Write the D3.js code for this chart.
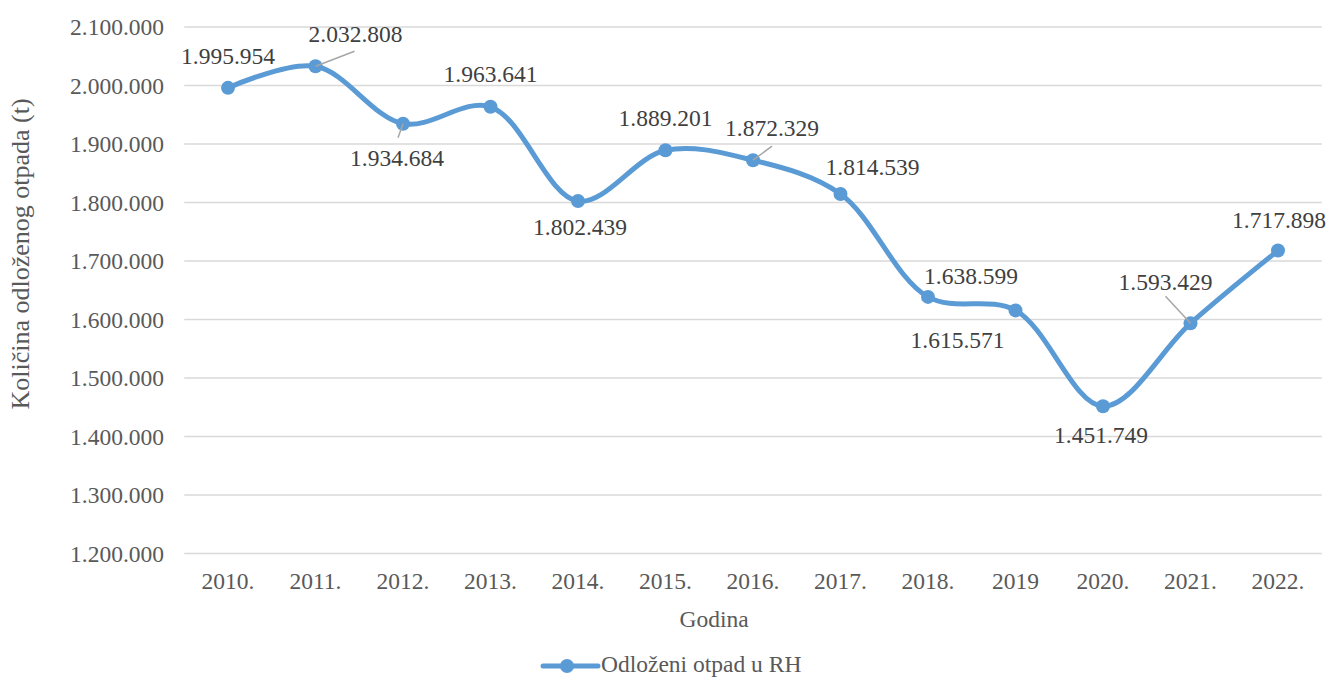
<!DOCTYPE html>
<html>
<head>
<meta charset="utf-8">
<script src="https://cdn.jsdelivr.net/npm/d3@7"></script>
<style>
    body { margin: 0; background: #fff; }
    svg text { font-family: "Liberation Serif", "Times New Roman", serif; }
</style>
</head>
<body>
<svg id="chart" width="1329" height="677"></svg>
<script>
// Data
const years = ['2010.', '2011.', '2012.', '2013.', '2014.', '2015.', '2016.', '2017.', '2018.', '2019', '2020.', '2021.', '2022.'];
const waste = [1995954, 2032808, 1934684, 1963641, 1802439, 1889201, 1872329, 1814539, 1638599, 1615571, 1451749, 1593429, 1717898];
const yTicks = [1200000, 1300000, 1400000, 1500000, 1600000, 1700000, 1800000, 1900000, 2000000, 2100000];
const seriesName = 'Odloženi otpad u RH';

// Label placement (offset from the point), leader line start where present
const labelOffsets = [
    { dx: 0, dy: -24 },
    { dx: 40, dy: -24, lx: 39, ly: -15 },
    { dx: -6, dy: 42, lx: -5, ly: 14 },
    { dx: 0, dy: -25 },
    { dx: 2, dy: 34 },
    { dx: 0, dy: -24 },
    { dx: 19, dy: -24, lx: 19, ly: -14 },
    { dx: 32, dy: -19 },
    { dx: 43, dy: -13 },
    { dx: -58, dy: 38 },
    { dx: -2, dy: 37 },
    { dx: -25, dy: -33, lx: -25, ly: -27 },
    { dx: 1, dy: -23 }
];

(function () {
    'use strict';

    const BLUE = '#5b9bd5';
    const TEXT = '#595959';
    const FS = 23.5;

    const locale = d3.formatLocale({ decimal: ',', thousands: '.', grouping: [3], currency: ['', ''] });
    const fmt = locale.format(',d');

    const svg = d3.select('#chart');
    const plot = { left: 184.25, right: 1321.75, top: 27, bottom: 553.5 };

    const x = d3.scaleBand().domain(years).range([plot.left, plot.right]);
    const y = d3.scaleLinear().domain([1200000, 2100000]).range([plot.bottom, plot.top]);
    const cx = d => x(d) + x.bandwidth() / 2;

    // Gridlines
    svg.append('g')
        .selectAll('line')
        .data(yTicks)
        .join('line')
        .attr('x1', plot.left).attr('x2', plot.right)
        .attr('y1', d => y(d)).attr('y2', d => y(d))
        .attr('stroke', '#d9d9d9')
        .attr('stroke-width', 1.5);

    // Y tick labels
    svg.append('g')
        .selectAll('text')
        .data(yTicks)
        .join('text')
        .attr('x', 164)
        .attr('y', d => y(d) + 8)
        .attr('text-anchor', 'end')
        .attr('font-size', FS)
        .attr('fill', TEXT)
        .text(d => fmt(d));

    // X tick labels
    svg.append('g')
        .selectAll('text')
        .data(years)
        .join('text')
        .attr('x', d => cx(d))
        .attr('y', 589)
        .attr('text-anchor', 'middle')
        .attr('font-size', FS)
        .attr('fill', TEXT)
        .text(d => d);

    // Axis titles
    svg.append('text')
        .attr('x', 714).attr('y', 627)
        .attr('text-anchor', 'middle')
        .attr('font-size', FS)
        .attr('fill', TEXT)
        .text('Godina');

    svg.append('text')
        .attr('transform', 'translate(29,254) rotate(-90)')
        .attr('text-anchor', 'middle')
        .attr('font-size', 26)
        .attr('fill', TEXT)
        .text('Količina odloženog otpada (t)');

    // Series
    const points = years.map((yr, i) => ({ yr, v: waste[i], off: labelOffsets[i] }));

    const line = d3.line()
        .x(d => cx(d.yr))
        .y(d => y(d.v))
        .curve(d3.curveCatmullRom.alpha(0.5));

    svg.append('path')
        .datum(points)
        .attr('d', line)
        .attr('fill', 'none')
        .attr('stroke', BLUE)
        .attr('stroke-width', 5)
        .attr('stroke-linecap', 'round');

    svg.append('g')
        .selectAll('circle')
        .data(points)
        .join('circle')
        .attr('cx', d => cx(d.yr))
        .attr('cy', d => y(d.v))
        .attr('r', 7)
        .attr('fill', BLUE);

    // Leader lines
    svg.append('g')
        .selectAll('line')
        .data(points.filter(d => d.off.lx !== undefined))
        .join('line')
        .attr('x1', d => cx(d.yr) + d.off.lx)
        .attr('y1', d => y(d.v) + d.off.ly)
        .attr('x2', d => cx(d.yr))
        .attr('y2', d => y(d.v))
        .attr('stroke', '#a6a6a6')
        .attr('stroke-width', 1.5);

    // Data labels
    svg.append('g')
        .selectAll('text')
        .data(points)
        .join('text')
        .attr('x', d => cx(d.yr) + d.off.dx)
        .attr('y', d => y(d.v) + d.off.dy)
        .attr('text-anchor', 'middle')
        .attr('font-size', FS)
        .attr('fill', '#404040')
        .text(d => fmt(d.v));

    // Legend
    const lg = svg.append('g');
    lg.append('line')
        .attr('x1', 543).attr('x2', 598)
        .attr('y1', 666).attr('y2', 666)
        .attr('stroke', BLUE).attr('stroke-width', 5)
        .attr('stroke-linecap', 'round');
    lg.append('circle')
        .attr('cx', 567).attr('cy', 666).attr('r', 7)
        .attr('fill', BLUE);
    lg.append('text')
        .attr('x', 601).attr('y', 672)
        .attr('font-size', FS)
        .attr('fill', TEXT)
        .text(seriesName);
})();
</script>
</body>
</html>
